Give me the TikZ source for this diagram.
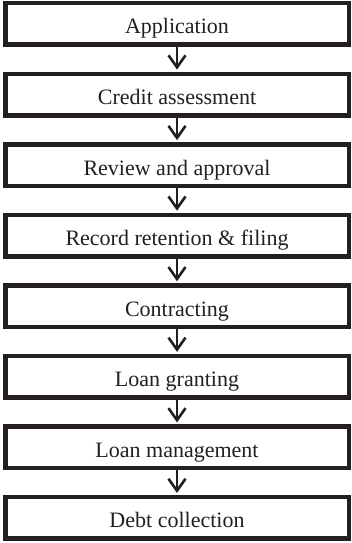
\documentclass[tikz,border=0pt]{standalone}
\usepackage{fontspec}
\setmainfont{Liberation Serif}
\usetikzlibrary{arrows.meta}
\definecolor{inkblack}{RGB}{35,31,32}
\tikzstyle{stage} = [rectangle, minimum width=343.5pt, minimum height=41.5pt, inner sep=0pt, text height=20pt, text depth=0pt, text centered, draw=inkblack, line width=4.5pt, text=inkblack, font=\fontsize{22}{26}\selectfont]
\tikzstyle{arrow} = [draw=inkblack, line width=2.6pt, -{Straight Barb[length=12pt,width=17pt,line width=2.6pt]}, shorten >=2pt]

\begin{document}
\begin{tikzpicture}[node distance=70.57pt]
  \useasboundingbox (0pt,0pt) rectangle (352pt,-543pt);
  \node (app)[stage] at (177pt,-24pt){Application};
  \node (credit)[stage, below of=app]{Credit assessment};
  \node (review)[stage, below of=credit]{Review and approval};
  \node (record)[stage, below of=review]{Record retention \& filing};
  \node (contract)[stage, below of=record]{Contracting};
  \node (grant)[stage, below of=contract]{Loan granting};
  \node (manage)[stage, below of=grant]{Loan management};
  \node (debt)[stage, below of=manage]{Debt collection};
  \draw[arrow] (app)--(credit);
  \draw[arrow] (credit)--(review);
  \draw[arrow] (review)--(record);
  \draw[arrow] (record)--(contract);
  \draw[arrow] (contract)--(grant);
  \draw[arrow] (grant)--(manage);
  \draw[arrow] (manage)--(debt);
\end{tikzpicture}
\end{document}
